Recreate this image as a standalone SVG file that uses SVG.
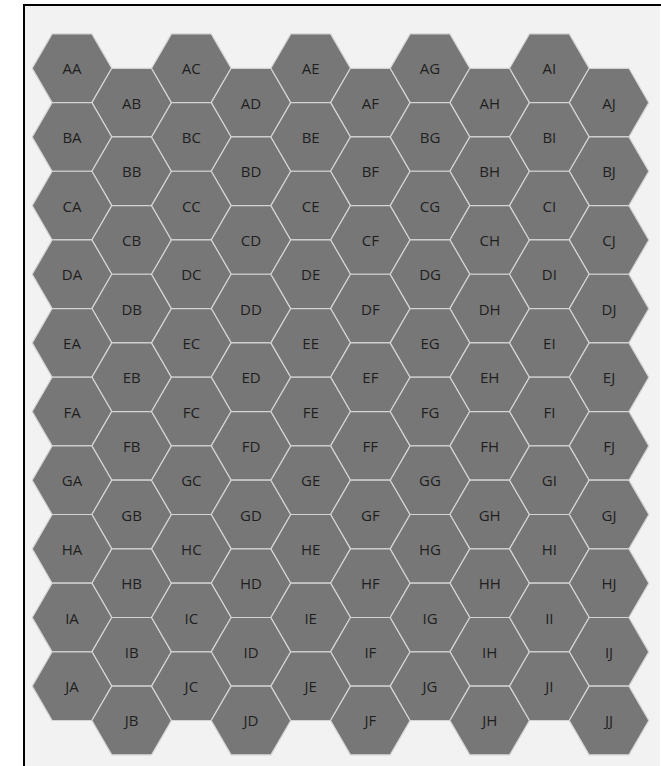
<svg xmlns="http://www.w3.org/2000/svg" xmlns:xlink="http://www.w3.org/1999/xlink" width="661" height="766" viewBox="0 0 661 766">
<style>
.hx{fill:#777777;stroke:#d4d4d4;stroke-width:1.2}
.lb{font-family:"Segoe UI","Open Sans","Noto Sans",sans-serif;font-size:15px;fill:#1f1f1f;text-anchor:middle}
</style>
<defs>
<polygon id="h" class="hx" points="-39.78,0 -19.89,-34.33 19.89,-34.33 39.78,0 19.89,34.33 -19.89,34.33"/>
</defs>
<rect x="0" y="0" width="661" height="766" fill="#ffffff"/>
<rect x="24" y="5" width="636" height="761" fill="#f2f2f2"/>
<line x1="23" y1="5" x2="661" y2="5" stroke="#000" stroke-width="2"/>
<line x1="24" y1="4" x2="24" y2="766" stroke="#000" stroke-width="2"/>
<g id="nodes">
<g id="AA" transform="translate(72,68.3)"><use href="#h"/><text class="lb" y="6">AA</text></g>
<g id="AB" transform="translate(131.67,102.63)"><use href="#h"/><text class="lb" y="6">AB</text></g>
<g id="AC" transform="translate(191.34,68.3)"><use href="#h"/><text class="lb" y="6">AC</text></g>
<g id="AD" transform="translate(251.01,102.63)"><use href="#h"/><text class="lb" y="6">AD</text></g>
<g id="AE" transform="translate(310.68,68.3)"><use href="#h"/><text class="lb" y="6">AE</text></g>
<g id="AF" transform="translate(370.35,102.63)"><use href="#h"/><text class="lb" y="6">AF</text></g>
<g id="AG" transform="translate(430.02,68.3)"><use href="#h"/><text class="lb" y="6">AG</text></g>
<g id="AH" transform="translate(489.69,102.63)"><use href="#h"/><text class="lb" y="6">AH</text></g>
<g id="AI" transform="translate(549.36,68.3)"><use href="#h"/><text class="lb" y="6">AI</text></g>
<g id="AJ" transform="translate(609.03,102.63)"><use href="#h"/><text class="lb" y="6">AJ</text></g>
<g id="BA" transform="translate(72,136.95)"><use href="#h"/><text class="lb" y="6">BA</text></g>
<g id="BB" transform="translate(131.67,171.28)"><use href="#h"/><text class="lb" y="6">BB</text></g>
<g id="BC" transform="translate(191.34,136.95)"><use href="#h"/><text class="lb" y="6">BC</text></g>
<g id="BD" transform="translate(251.01,171.28)"><use href="#h"/><text class="lb" y="6">BD</text></g>
<g id="BE" transform="translate(310.68,136.95)"><use href="#h"/><text class="lb" y="6">BE</text></g>
<g id="BF" transform="translate(370.35,171.28)"><use href="#h"/><text class="lb" y="6">BF</text></g>
<g id="BG" transform="translate(430.02,136.95)"><use href="#h"/><text class="lb" y="6">BG</text></g>
<g id="BH" transform="translate(489.69,171.28)"><use href="#h"/><text class="lb" y="6">BH</text></g>
<g id="BI" transform="translate(549.36,136.95)"><use href="#h"/><text class="lb" y="6">BI</text></g>
<g id="BJ" transform="translate(609.03,171.28)"><use href="#h"/><text class="lb" y="6">BJ</text></g>
<g id="CA" transform="translate(72,205.6)"><use href="#h"/><text class="lb" y="6">CA</text></g>
<g id="CB" transform="translate(131.67,239.93)"><use href="#h"/><text class="lb" y="6">CB</text></g>
<g id="CC" transform="translate(191.34,205.6)"><use href="#h"/><text class="lb" y="6">CC</text></g>
<g id="CD" transform="translate(251.01,239.93)"><use href="#h"/><text class="lb" y="6">CD</text></g>
<g id="CE" transform="translate(310.68,205.6)"><use href="#h"/><text class="lb" y="6">CE</text></g>
<g id="CF" transform="translate(370.35,239.93)"><use href="#h"/><text class="lb" y="6">CF</text></g>
<g id="CG" transform="translate(430.02,205.6)"><use href="#h"/><text class="lb" y="6">CG</text></g>
<g id="CH" transform="translate(489.69,239.93)"><use href="#h"/><text class="lb" y="6">CH</text></g>
<g id="CI" transform="translate(549.36,205.6)"><use href="#h"/><text class="lb" y="6">CI</text></g>
<g id="CJ" transform="translate(609.03,239.93)"><use href="#h"/><text class="lb" y="6">CJ</text></g>
<g id="DA" transform="translate(72,274.25)"><use href="#h"/><text class="lb" y="6">DA</text></g>
<g id="DB" transform="translate(131.67,308.58)"><use href="#h"/><text class="lb" y="6">DB</text></g>
<g id="DC" transform="translate(191.34,274.25)"><use href="#h"/><text class="lb" y="6">DC</text></g>
<g id="DD" transform="translate(251.01,308.58)"><use href="#h"/><text class="lb" y="6">DD</text></g>
<g id="DE" transform="translate(310.68,274.25)"><use href="#h"/><text class="lb" y="6">DE</text></g>
<g id="DF" transform="translate(370.35,308.58)"><use href="#h"/><text class="lb" y="6">DF</text></g>
<g id="DG" transform="translate(430.02,274.25)"><use href="#h"/><text class="lb" y="6">DG</text></g>
<g id="DH" transform="translate(489.69,308.58)"><use href="#h"/><text class="lb" y="6">DH</text></g>
<g id="DI" transform="translate(549.36,274.25)"><use href="#h"/><text class="lb" y="6">DI</text></g>
<g id="DJ" transform="translate(609.03,308.58)"><use href="#h"/><text class="lb" y="6">DJ</text></g>
<g id="EA" transform="translate(72,342.9)"><use href="#h"/><text class="lb" y="6">EA</text></g>
<g id="EB" transform="translate(131.67,377.23)"><use href="#h"/><text class="lb" y="6">EB</text></g>
<g id="EC" transform="translate(191.34,342.9)"><use href="#h"/><text class="lb" y="6">EC</text></g>
<g id="ED" transform="translate(251.01,377.23)"><use href="#h"/><text class="lb" y="6">ED</text></g>
<g id="EE" transform="translate(310.68,342.9)"><use href="#h"/><text class="lb" y="6">EE</text></g>
<g id="EF" transform="translate(370.35,377.23)"><use href="#h"/><text class="lb" y="6">EF</text></g>
<g id="EG" transform="translate(430.02,342.9)"><use href="#h"/><text class="lb" y="6">EG</text></g>
<g id="EH" transform="translate(489.69,377.23)"><use href="#h"/><text class="lb" y="6">EH</text></g>
<g id="EI" transform="translate(549.36,342.9)"><use href="#h"/><text class="lb" y="6">EI</text></g>
<g id="EJ" transform="translate(609.03,377.23)"><use href="#h"/><text class="lb" y="6">EJ</text></g>
<g id="FA" transform="translate(72,411.55)"><use href="#h"/><text class="lb" y="6">FA</text></g>
<g id="FB" transform="translate(131.67,445.88)"><use href="#h"/><text class="lb" y="6">FB</text></g>
<g id="FC" transform="translate(191.34,411.55)"><use href="#h"/><text class="lb" y="6">FC</text></g>
<g id="FD" transform="translate(251.01,445.88)"><use href="#h"/><text class="lb" y="6">FD</text></g>
<g id="FE" transform="translate(310.68,411.55)"><use href="#h"/><text class="lb" y="6">FE</text></g>
<g id="FF" transform="translate(370.35,445.88)"><use href="#h"/><text class="lb" y="6">FF</text></g>
<g id="FG" transform="translate(430.02,411.55)"><use href="#h"/><text class="lb" y="6">FG</text></g>
<g id="FH" transform="translate(489.69,445.88)"><use href="#h"/><text class="lb" y="6">FH</text></g>
<g id="FI" transform="translate(549.36,411.55)"><use href="#h"/><text class="lb" y="6">FI</text></g>
<g id="FJ" transform="translate(609.03,445.88)"><use href="#h"/><text class="lb" y="6">FJ</text></g>
<g id="GA" transform="translate(72,480.2)"><use href="#h"/><text class="lb" y="6">GA</text></g>
<g id="GB" transform="translate(131.67,514.53)"><use href="#h"/><text class="lb" y="6">GB</text></g>
<g id="GC" transform="translate(191.34,480.2)"><use href="#h"/><text class="lb" y="6">GC</text></g>
<g id="GD" transform="translate(251.01,514.53)"><use href="#h"/><text class="lb" y="6">GD</text></g>
<g id="GE" transform="translate(310.68,480.2)"><use href="#h"/><text class="lb" y="6">GE</text></g>
<g id="GF" transform="translate(370.35,514.53)"><use href="#h"/><text class="lb" y="6">GF</text></g>
<g id="GG" transform="translate(430.02,480.2)"><use href="#h"/><text class="lb" y="6">GG</text></g>
<g id="GH" transform="translate(489.69,514.53)"><use href="#h"/><text class="lb" y="6">GH</text></g>
<g id="GI" transform="translate(549.36,480.2)"><use href="#h"/><text class="lb" y="6">GI</text></g>
<g id="GJ" transform="translate(609.03,514.53)"><use href="#h"/><text class="lb" y="6">GJ</text></g>
<g id="HA" transform="translate(72,548.85)"><use href="#h"/><text class="lb" y="6">HA</text></g>
<g id="HB" transform="translate(131.67,583.18)"><use href="#h"/><text class="lb" y="6">HB</text></g>
<g id="HC" transform="translate(191.34,548.85)"><use href="#h"/><text class="lb" y="6">HC</text></g>
<g id="HD" transform="translate(251.01,583.18)"><use href="#h"/><text class="lb" y="6">HD</text></g>
<g id="HE" transform="translate(310.68,548.85)"><use href="#h"/><text class="lb" y="6">HE</text></g>
<g id="HF" transform="translate(370.35,583.18)"><use href="#h"/><text class="lb" y="6">HF</text></g>
<g id="HG" transform="translate(430.02,548.85)"><use href="#h"/><text class="lb" y="6">HG</text></g>
<g id="HH" transform="translate(489.69,583.18)"><use href="#h"/><text class="lb" y="6">HH</text></g>
<g id="HI" transform="translate(549.36,548.85)"><use href="#h"/><text class="lb" y="6">HI</text></g>
<g id="HJ" transform="translate(609.03,583.18)"><use href="#h"/><text class="lb" y="6">HJ</text></g>
<g id="IA" transform="translate(72,617.5)"><use href="#h"/><text class="lb" y="6">IA</text></g>
<g id="IB" transform="translate(131.67,651.83)"><use href="#h"/><text class="lb" y="6">IB</text></g>
<g id="IC" transform="translate(191.34,617.5)"><use href="#h"/><text class="lb" y="6">IC</text></g>
<g id="ID" transform="translate(251.01,651.83)"><use href="#h"/><text class="lb" y="6">ID</text></g>
<g id="IE" transform="translate(310.68,617.5)"><use href="#h"/><text class="lb" y="6">IE</text></g>
<g id="IF" transform="translate(370.35,651.83)"><use href="#h"/><text class="lb" y="6">IF</text></g>
<g id="IG" transform="translate(430.02,617.5)"><use href="#h"/><text class="lb" y="6">IG</text></g>
<g id="IH" transform="translate(489.69,651.83)"><use href="#h"/><text class="lb" y="6">IH</text></g>
<g id="II" transform="translate(549.36,617.5)"><use href="#h"/><text class="lb" y="6">II</text></g>
<g id="IJ" transform="translate(609.03,651.83)"><use href="#h"/><text class="lb" y="6">IJ</text></g>
<g id="JA" transform="translate(72,686.15)"><use href="#h"/><text class="lb" y="6">JA</text></g>
<g id="JB" transform="translate(131.67,720.48)"><use href="#h"/><text class="lb" y="6">JB</text></g>
<g id="JC" transform="translate(191.34,686.15)"><use href="#h"/><text class="lb" y="6">JC</text></g>
<g id="JD" transform="translate(251.01,720.48)"><use href="#h"/><text class="lb" y="6">JD</text></g>
<g id="JE" transform="translate(310.68,686.15)"><use href="#h"/><text class="lb" y="6">JE</text></g>
<g id="JF" transform="translate(370.35,720.48)"><use href="#h"/><text class="lb" y="6">JF</text></g>
<g id="JG" transform="translate(430.02,686.15)"><use href="#h"/><text class="lb" y="6">JG</text></g>
<g id="JH" transform="translate(489.69,720.48)"><use href="#h"/><text class="lb" y="6">JH</text></g>
<g id="JI" transform="translate(549.36,686.15)"><use href="#h"/><text class="lb" y="6">JI</text></g>
<g id="JJ" transform="translate(609.03,720.48)"><use href="#h"/><text class="lb" y="6">JJ</text></g>
</g>
<g id="connectors"/>
</svg>
